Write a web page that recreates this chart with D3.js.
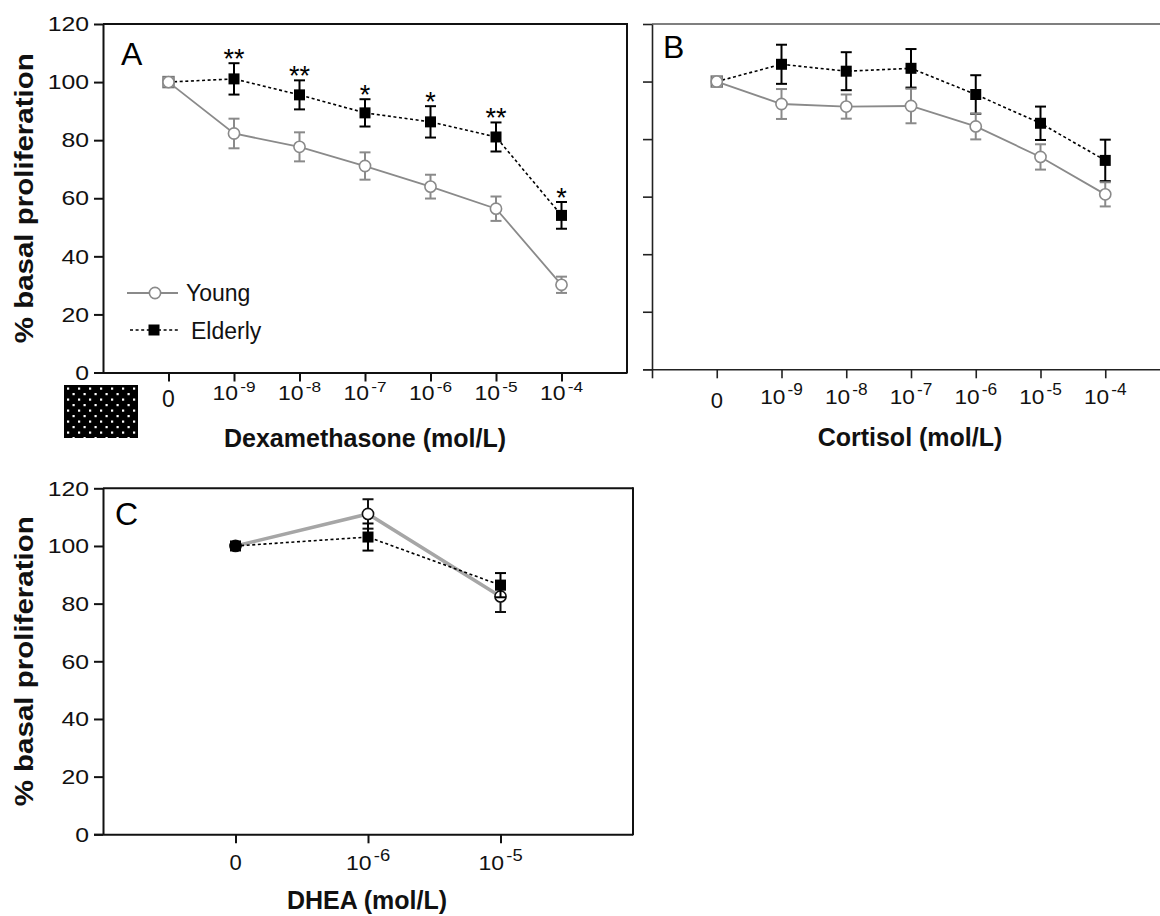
<!DOCTYPE html>
<html><head><meta charset="utf-8">
<script src="https://cdn.jsdelivr.net/npm/d3@7"></script>
<style>
body{margin:0;background:#fff}
svg{display:block}
text{font-family:"Liberation Sans",Arial,Helvetica,sans-serif}
</style>
</head><body>
<svg id="chart" width="1160" height="916"></svg>
<script>
// ---------------- data ----------------
const doseExponents = ["0", "-9", "-8", "-7", "-6", "-5", "-4"];
const dexYoung      = [100, 82.3, 77.7, 71.1, 64.0, 56.4, 30.2];
const dexYoungErr   = [0, 5.1, 5.0, 4.7, 4.1, 4.2, 2.8];
const dexElderly    = [100, 101.1, 95.6, 89.4, 86.3, 81.1, 54.1];
const dexElderlyErr = [0, 5.4, 5.0, 4.7, 5.4, 5.0, 4.6];
const dexStars      = ["", "**", "**", "*", "*", "**", "*"];

const cortYoung      = [100, 92.2, 91.3, 91.5, 84.4, 73.8, 60.8];
const cortYoungErr   = [0, 5.2, 4.2, 6.0, 4.5, 4.4, 4.2];
const cortElderly    = [100, 106.0, 103.6, 104.6, 95.5, 85.5, 72.6];
const cortElderlyErr = [0, 6.8, 6.6, 6.7, 6.7, 5.8, 7.2];

const dheaExponents  = ["0", "-6", "-5"];
const dheaYoung      = [100, 111.1, 82.5];
const dheaYoungErr   = [0, 5.1, 5.4];
const dheaElderly    = [100, 103.1, 86.4];
const dheaElderlyErr = [0, 4.7, 4.2];

const yTicks = [0, 20, 40, 60, 80, 100, 120];
const seriesNames = ["Young", "Elderly"];
const yTitle = "% basal proliferation";

// ---------------- drawing ----------------
const svg = d3.select("#chart");
const defs = svg.append("defs");
const pat = defs.append("pattern").attr("id", "dots").attr("patternUnits", "userSpaceOnUse")
  .attr("x", 64).attr("y", 385).attr("width", 11).attr("height", 11);
pat.append("rect").attr("width", 11).attr("height", 11).attr("fill", "#000");
pat.append("rect").attr("x", 3).attr("y", 2.5).attr("width", 2.2).attr("height", 2.2).attr("fill", "#fff");
pat.append("rect").attr("x", 8.5).attr("y", 8).attr("width", 2.2).attr("height", 2.2).attr("fill", "#fff");

function drawPanel(cfg) {
  const g = svg.append("g");
  const x = d3.scaleLinear().domain(cfg.xDomain).range(cfg.xRange);
  const y = d3.scaleLinear().domain([0, 120]).range(cfg.yRange);
  const axisCol = cfg.axisColor, aw = cfg.axisWidth;

  // frame lines (top / right)
  g.append("line").attr("x1", x.range()[0]).attr("x2", cfg.frameRight).attr("y1", y(120)).attr("y2", y(120))
    .attr("stroke", cfg.topColor).attr("stroke-width", aw);
  if (cfg.rightBorder) {
    g.append("line").attr("x1", cfg.frameRight).attr("x2", cfg.frameRight).attr("y1", y(120) - aw / 2).attr("y2", y(0) + aw / 2)
      .attr("stroke", axisCol).attr("stroke-width", aw);
  }

  // y axis
  const ya = g.append("g").attr("transform", `translate(${x.range()[0]},0)`)
    .call(d3.axisLeft(y).tickValues(yTicks).tickSize(9).tickSizeOuter(0)
      .tickFormat(cfg.yLabels ? d3.format("d") : () => ""));
  ya.select(".domain").attr("stroke", axisCol).attr("stroke-width", aw);
  ya.selectAll(".tick line").attr("stroke", axisCol).attr("stroke-width", aw);
  ya.selectAll(".tick text").attr("font-size", 21).attr("fill", "#111")
    .attr("x", 0).attr("transform", "translate(-14,0) scale(1.18,1)");

  // x axis
  const xa = g.append("g").attr("transform", `translate(0,${y(0)})`)
    .call(d3.axisBottom(x).tickValues(cfg.xTicks).tickSize(9).tickSizeOuter(0).tickFormat(() => ""));
  xa.select(".domain").attr("stroke", axisCol).attr("stroke-width", aw)
    .attr("d", `M${x.range()[0] - 9},0.5H${cfg.frameRight}`);
  xa.selectAll(".tick line").attr("stroke", axisCol).attr("stroke-width", aw);
  xa.selectAll(".tick text").remove();
  cfg.exps.forEach((e, i) => {
    const t = g.append("text").attr("text-anchor", "middle").attr("fill", "#111");
    if (e === "0") {
      t.attr("transform", `translate(${x(i)},${cfg.zeroBase})`).attr("font-size", cfg.zeroSize).text("0");
    } else {
      t.attr("transform", `translate(${x(i)},${cfg.tenBase}) scale(${cfg.tenStretch},1)`).attr("font-size", cfg.tenSize);
      t.append("tspan").text("10");
      t.append("tspan").attr("font-size", cfg.supSize).attr("dx", 2).attr("dy", -cfg.supRise).text(e);
    }
  });

  // axis titles
  g.append("text").attr("x", cfg.xTitleX).attr("y", cfg.xTitleY).attr("text-anchor", "middle")
    .attr("font-size", 25).attr("font-weight", "bold").attr("fill", "#111").text(cfg.xTitle);
  if (cfg.showYTitle) {
    g.append("text").attr("transform", `translate(${cfg.yTitleX},${(y(0) + y(120)) / 2}) rotate(-90) scale(1.18,1)`)
      .attr("text-anchor", "middle").attr("font-size", 25).attr("font-weight", "bold").attr("fill", "#111").text(yTitle);
  }
  // panel letter
  g.append("text").attr("x", cfg.letterX).attr("y", cfg.letterY).attr("font-size", 32).attr("fill", "#000").text(cfg.letter);

  const idx = d3.range(cfg.young.length);
  const yStyle = cfg.youngStyle;

  function errBar(cx, v, e, col) {
    const eg = g.append("g").attr("stroke", col).attr("stroke-width", 2);
    eg.append("line").attr("x1", cx).attr("x2", cx).attr("y1", y(v + e)).attr("y2", y(v - e));
    eg.append("line").attr("x1", cx - 5.5).attr("x2", cx + 5.5).attr("y1", y(v + e)).attr("y2", y(v + e));
    eg.append("line").attr("x1", cx - 5.5).attr("x2", cx + 5.5).attr("y1", y(v - e)).attr("y2", y(v - e));
  }
  function drawYoung() {
    g.append("path").datum(cfg.young).attr("fill", "none").attr("stroke", yStyle.line).attr("stroke-width", yStyle.lineWidth)
      .attr("d", d3.line().x((d, i) => x(i)).y(d => y(d)));
    idx.filter(i => cfg.youngErr[i] > 0).forEach(i => errBar(x(i), cfg.young[i], cfg.youngErr[i], yStyle.marker));
    g.selectAll(null).data(cfg.young).join("circle").attr("cx", (d, i) => x(i)).attr("cy", d => y(d)).attr("r", 5.6)
      .attr("fill", "#fff").attr("stroke", yStyle.marker).attr("stroke-width", 1.6);
  }
  function drawElderly() {
    g.append("path").datum(cfg.elderly).attr("fill", "none").attr("stroke", "#000").attr("stroke-width", 1.6)
      .attr("stroke-dasharray", "3,2.6").attr("d", d3.line().x((d, i) => x(i)).y(d => y(d)));
    idx.filter(i => cfg.elderlyErr[i] > 0).forEach(i => errBar(x(i), cfg.elderly[i], cfg.elderlyErr[i], "#000"));
    g.selectAll(null).data(cfg.elderly).join("rect").attr("x", (d, i) => x(i) - 5.5).attr("y", d => y(d) - 5.5)
      .attr("width", 11).attr("height", 11)
      .attr("fill", (d, i) => cfg.youngOnTop && d === cfg.young[i] ? "#fff" : "#000")
      .attr("stroke", (d, i) => cfg.youngOnTop && d === cfg.young[i] ? "#777" : "none")
      .attr("stroke-width", 1.5);
  }
  if (cfg.youngOnTop) { drawElderly(); drawYoung(); } else { drawYoung(); drawElderly(); }

  if (cfg.stars) {
    cfg.stars.forEach((s, i) => {
      if (!s) return;
      g.append("text").attr("x", x(i)).attr("y", y(cfg.elderly[i] + cfg.elderlyErr[i]) + 5)
        .attr("text-anchor", "middle").attr("font-size", 27).attr("fill", "#000").text(s);
    });
  }
  return { g, x, y };
}

const A = drawPanel({
  letter: "A", letterX: 121, letterY: 65,
  xDomain: [-1, 7], xRange: [103, 627], yRange: [372.5, 24], frameRight: 627, rightBorder: true,
  xTicks: d3.range(0, 7), exps: doseExponents, axisColor: "#111", topColor: "#111", axisWidth: 2, yLabels: true,
  zeroBase: 407, zeroSize: 23, tenBase: 400, tenSize: 20, tenStretch: 1.15, supSize: 15, supRise: 8,
  xTitle: "Dexamethasone (mol/L)", xTitleX: 365, xTitleY: 447, showYTitle: true, yTitleX: 33,
  young: dexYoung, youngErr: dexYoungErr, elderly: dexElderly, elderlyErr: dexElderlyErr, stars: dexStars,
  youngStyle: { line: "#8a8a8a", lineWidth: 1.8, marker: "#8a8a8a" }, youngOnTop: true
});

const B = drawPanel({
  letter: "B", letterX: 663, letterY: 58,
  xDomain: [-1, 7], xRange: [652, 1170], yRange: [369.3, 24], frameRight: 1160, rightBorder: false,
  xTicks: d3.range(-1, 7), exps: doseExponents, axisColor: "#222", topColor: "#555", axisWidth: 1.6, yLabels: false,
  zeroBase: 408, zeroSize: 22, tenBase: 404, tenSize: 21, tenStretch: 1.08, supSize: 16, supRise: 9,
  xTitle: "Cortisol (mol/L)", xTitleX: 910, xTitleY: 446, showYTitle: false,
  young: cortYoung, youngErr: cortYoungErr, elderly: cortElderly, elderlyErr: cortElderlyErr, stars: null,
  youngStyle: { line: "#8a8a8a", lineWidth: 1.8, marker: "#8a8a8a" }, youngOnTop: true
});

const C = drawPanel({
  letter: "C", letterX: 115, letterY: 525,
  xDomain: [-1, 3], xRange: [103, 633], yRange: [834.3, 488.3], frameRight: 633, rightBorder: true,
  xTicks: d3.range(0, 3), exps: dheaExponents, axisColor: "#111", topColor: "#111", axisWidth: 2, yLabels: true,
  zeroBase: 870, zeroSize: 22, tenBase: 870, tenSize: 20, tenStretch: 1.15, supSize: 16, supRise: 9,
  xTitle: "DHEA (mol/L)", xTitleX: 367, xTitleY: 909, showYTitle: true, yTitleX: 33,
  young: dheaYoung, youngErr: dheaYoungErr, elderly: dheaElderly, elderlyErr: dheaElderlyErr, stars: null,
  youngStyle: { line: "#a6a6a6", lineWidth: 3.5, marker: "#111" }, youngOnTop: false
});

// pattern swatch below panel A's axis
svg.append("rect").attr("x", 64).attr("y", 385).attr("width", 74).attr("height", 53).attr("fill", "url(#dots)");

// legend in panel A
const lg = A.g.append("g");
lg.append("line").attr("x1", 127).attr("x2", 178).attr("y1", 293).attr("y2", 293).attr("stroke", "#8a8a8a").attr("stroke-width", 1.8);
lg.append("circle").attr("cx", 155).attr("cy", 293).attr("r", 5.6).attr("fill", "#fff").attr("stroke", "#8a8a8a").attr("stroke-width", 1.6);
lg.append("text").attr("x", 186).attr("y", 301).attr("font-size", 23).attr("fill", "#111").text(seriesNames[0]);
lg.append("line").attr("x1", 130).attr("x2", 180).attr("y1", 330).attr("y2", 330).attr("stroke", "#000").attr("stroke-width", 1.6).attr("stroke-dasharray", "3,2.6");
lg.append("rect").attr("x", 148.5).attr("y", 324.5).attr("width", 11).attr("height", 11).attr("fill", "#000");
lg.append("text").attr("x", 191).attr("y", 339).attr("font-size", 23).attr("fill", "#111").text(seriesNames[1]);
</script>
</body></html>
